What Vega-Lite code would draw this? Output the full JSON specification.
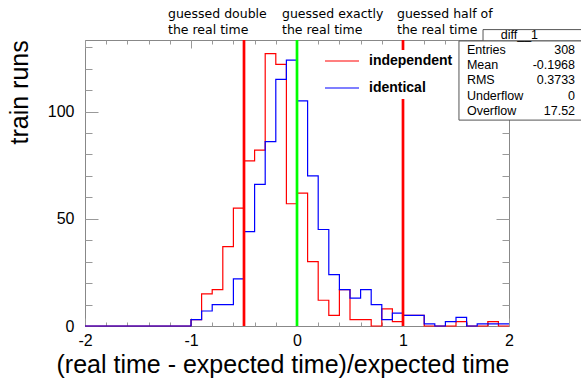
{
  "$schema": "https://vega.github.io/schema/vega-lite/v6.json",
  "width": 424,
  "height": 286,
  "autosize": {"type": "none"},
  "padding": {"left": 85, "top": 40, "right": 72, "bottom": 54},
  "background": "white",
  "config": {
    "view": {"stroke": "#888888", "strokeWidth": 1},
    "axis": {"domain": false, "grid": false, "tickColor": "#999999", "tickWidth": 1, "labelFont": "Liberation Sans", "labelFontSize": 16, "labelColor": "black", "labelFlush": false, "titleFont": "Liberation Sans", "titleFontSize": 25, "titleFontWeight": "normal", "titleColor": "black"}
  },
  "datasets": {
    "hist": [
      {"x": -2.0, "count": 0, "series": "independent"}, {"x": -1.9, "count": 0, "series": "independent"}, {"x": -1.8, "count": 0, "series": "independent"}, {"x": -1.7, "count": 0, "series": "independent"}, {"x": -1.6, "count": 0, "series": "independent"}, {"x": -1.5, "count": 0, "series": "independent"}, {"x": -1.4, "count": 0, "series": "independent"}, {"x": -1.3, "count": 0, "series": "independent"}, {"x": -1.2, "count": 0, "series": "independent"}, {"x": -1.1, "count": 0, "series": "independent"},
      {"x": -1.0, "count": 3, "series": "independent"}, {"x": -0.9, "count": 15, "series": "independent"}, {"x": -0.8, "count": 17, "series": "independent"}, {"x": -0.7, "count": 37, "series": "independent"}, {"x": -0.6, "count": 55, "series": "independent"}, {"x": -0.5, "count": 77, "series": "independent"}, {"x": -0.4, "count": 82, "series": "independent"}, {"x": -0.3, "count": 127, "series": "independent"}, {"x": -0.2, "count": 122, "series": "independent"}, {"x": -0.1, "count": 57, "series": "independent"},
      {"x": 0.0, "count": 62, "series": "independent"}, {"x": 0.1, "count": 30, "series": "independent"}, {"x": 0.2, "count": 12, "series": "independent"}, {"x": 0.3, "count": 5, "series": "independent"}, {"x": 0.4, "count": 17, "series": "independent"}, {"x": 0.5, "count": 3, "series": "independent"}, {"x": 0.6, "count": 3, "series": "independent"}, {"x": 0.7, "count": 0, "series": "independent"}, {"x": 0.8, "count": 8, "series": "independent"}, {"x": 0.9, "count": 2, "series": "independent"},
      {"x": 1.0, "count": 5, "series": "independent"}, {"x": 1.1, "count": 5, "series": "independent"}, {"x": 1.2, "count": 0, "series": "independent"}, {"x": 1.3, "count": 0, "series": "independent"}, {"x": 1.4, "count": 0, "series": "independent"}, {"x": 1.5, "count": 2, "series": "independent"}, {"x": 1.6, "count": 0, "series": "independent"}, {"x": 1.7, "count": 0, "series": "independent"}, {"x": 1.8, "count": 2, "series": "independent"}, {"x": 1.9, "count": 0, "series": "independent"}, {"x": 2.0, "count": 0, "series": "independent"},
      {"x": -2.0, "count": 0, "series": "identical"}, {"x": -1.9, "count": 0, "series": "identical"}, {"x": -1.8, "count": 0, "series": "identical"}, {"x": -1.7, "count": 0, "series": "identical"}, {"x": -1.6, "count": 0, "series": "identical"}, {"x": -1.5, "count": 0, "series": "identical"}, {"x": -1.4, "count": 0, "series": "identical"}, {"x": -1.3, "count": 0, "series": "identical"}, {"x": -1.2, "count": 0, "series": "identical"}, {"x": -1.1, "count": 0, "series": "identical"},
      {"x": -1.0, "count": 3, "series": "identical"}, {"x": -0.9, "count": 7, "series": "identical"}, {"x": -0.8, "count": 10, "series": "identical"}, {"x": -0.7, "count": 10, "series": "identical"}, {"x": -0.6, "count": 22, "series": "identical"}, {"x": -0.5, "count": 44, "series": "identical"}, {"x": -0.4, "count": 66, "series": "identical"}, {"x": -0.3, "count": 86, "series": "identical"}, {"x": -0.2, "count": 115, "series": "identical"}, {"x": -0.1, "count": 124, "series": "identical"},
      {"x": 0.0, "count": 105, "series": "identical"}, {"x": 0.1, "count": 70, "series": "identical"}, {"x": 0.2, "count": 45, "series": "identical"}, {"x": 0.3, "count": 24, "series": "identical"}, {"x": 0.4, "count": 17, "series": "identical"}, {"x": 0.5, "count": 13, "series": "identical"}, {"x": 0.6, "count": 17, "series": "identical"}, {"x": 0.7, "count": 10, "series": "identical"}, {"x": 0.8, "count": 3, "series": "identical"}, {"x": 0.9, "count": 6, "series": "identical"},
      {"x": 1.0, "count": 5, "series": "identical"}, {"x": 1.1, "count": 5, "series": "identical"}, {"x": 1.2, "count": 1, "series": "identical"}, {"x": 1.3, "count": 0, "series": "identical"}, {"x": 1.4, "count": 2, "series": "identical"}, {"x": 1.5, "count": 4, "series": "identical"}, {"x": 1.6, "count": 0, "series": "identical"}, {"x": 1.7, "count": 1, "series": "identical"}, {"x": 1.8, "count": 1, "series": "identical"}, {"x": 1.9, "count": 1, "series": "identical"}, {"x": 2.0, "count": 1, "series": "identical"}
    ],
    "guesses": [
      {"guess": "double", "x": -0.5, "label": ["guessed double", "the real time"]},
      {"guess": "exactly", "x": 0, "label": ["guessed exactly", "the real time"]},
      {"guess": "half", "x": 1, "label": ["guessed half of", "the real time"]}
    ],
    "stats": [
      {"title": "diff__1", "names": ["Entries", "Mean", "RMS", "Underflow", "Overflow"], "values": ["308", "-0.1968", "0.3733", "0", "17.52"]}
    ]
  },
  "resolve": {"axis": {"x": "independent", "y": "independent"}},
  "layer": [
    {
      "data": {"name": "hist"},
      "mark": {"type": "line", "interpolate": "step-after", "strokeWidth": 1.2},
      "encoding": {
        "x": {"field": "x", "type": "quantitative", "scale": {"domain": [-2, 2], "nice": false, "zero": false},
          "axis": {"orient": "bottom", "values": [-2, -1, 0, 1, 2], "tickSize": -8, "labelPadding": 14, "labelExpr": "'' + datum.value", "title": "(real time - expected time)/expected time", "titleAnchor": "end", "titlePadding": 4}},
        "y": {"field": "count", "type": "quantitative", "scale": {"domain": [0, 133.35], "nice": false, "zero": true},
          "axis": {"orient": "left", "values": [0, 50, 100], "tickSize": -13, "labelPadding": 24, "title": "train runs", "titleAngle": -90, "titleAlign": "left", "titleBaseline": "alphabetic", "titleX": -58, "titleY": 104}},
        "color": {"field": "series", "type": "nominal", "sort": ["independent", "identical"],
          "scale": {"domain": ["independent", "identical"], "range": ["#ff0000", "#0000ff"]},
          "legend": {"orient": "none", "legendX": 235, "legendY": 10, "title": null, "symbolType": "M-1,0H4.67", "symbolSize": 144, "symbolStrokeWidth": 1.2, "labelFont": "Liberation Sans", "labelFontSize": 14, "labelFontWeight": "bold", "labelColor": "black", "labelOffset": 31, "rowPadding": 13, "padding": 4, "fillColor": "white", "strokeColor": null}}
      }
    },
    {
      "data": {"name": "guesses"},
      "mark": {"type": "rule", "strokeWidth": 2.7},
      "encoding": {
        "x": {"field": "x", "type": "quantitative",
          "axis": {"orient": "bottom", "values": [-2, -1.8, -1.6, -1.4, -1.2, -1, -0.8, -0.6, -0.4, -0.2, 0, 0.2, 0.4, 0.6, 0.8, 1, 1.2, 1.4, 1.6, 1.8, 2], "tickSize": -4, "labels": false, "title": null}},
        "color": {"condition": {"test": "datum.x === 0", "value": "#00ff00"}, "value": "#ff0000"}
      }
    },
    {
      "data": {"name": "guesses"},
      "transform": [{"filter": "datum.guess === 'double'"}],
      "mark": {"type": "text", "align": "left", "baseline": "middle", "dx": -76, "dy": -26, "font": "DejaVu Sans", "fontSize": 12.5, "lineHeight": 15.5, "color": "black"},
      "encoding": {
        "x": {"field": "x", "type": "quantitative",
          "axis": {"orient": "top", "values": [-2, -1, 0, 1, 2], "tickSize": -8, "labels": false, "title": null}},
        "y": {"datum": 133.35, "type": "quantitative",
          "axis": {"orient": "right", "values": [0, 50, 100], "tickSize": -13, "labels": false, "title": null}},
        "text": {"field": "label"}
      }
    },
    {
      "data": {"name": "guesses"},
      "transform": [{"filter": "datum.guess === 'exactly'"}],
      "mark": {"type": "text", "align": "left", "baseline": "middle", "dx": -15, "dy": -26, "font": "DejaVu Sans", "fontSize": 12.5, "lineHeight": 15.5, "color": "black"},
      "encoding": {
        "x": {"field": "x", "type": "quantitative",
          "axis": {"orient": "top", "values": [-2, -1.8, -1.6, -1.4, -1.2, -1, -0.8, -0.6, -0.4, -0.2, 0, 0.2, 0.4, 0.6, 0.8, 1, 1.2, 1.4, 1.6, 1.8, 2], "tickSize": -4, "labels": false, "title": null}},
        "y": {"datum": 133.35, "type": "quantitative",
          "axis": {"orient": "right", "values": [0, 10, 20, 30, 40, 50, 60, 70, 80, 90, 100, 110, 120, 130], "tickSize": -7, "labels": false, "title": null}},
        "text": {"field": "label"}
      }
    },
    {
      "data": {"name": "guesses"},
      "transform": [{"filter": "datum.guess === 'half'"}],
      "mark": {"type": "text", "align": "left", "baseline": "middle", "dx": -6, "dy": -26, "font": "DejaVu Sans", "fontSize": 12.5, "lineHeight": 15.5, "color": "black"},
      "encoding": {
        "x": {"field": "x", "type": "quantitative", "axis": null},
        "y": {"datum": 133.35, "type": "quantitative",
          "axis": {"orient": "left", "values": [0, 10, 20, 30, 40, 50, 60, 70, 80, 90, 100, 110, 120, 130], "tickSize": -7, "labels": false, "title": null}},
        "text": {"field": "label"}
      }
    },
    {
      "data": {"name": "stats"},
      "mark": {"type": "rect", "fill": "white", "stroke": "#555555", "strokeWidth": 1},
      "encoding": {
        "x": {"datum": 1.755, "type": "quantitative", "axis": null},
        "x2": {"datum": 2.75},
        "y": {"datum": 138.2, "type": "quantitative", "axis": null},
        "y2": {"datum": 132.9}
      }
    },
    {
      "data": {"name": "stats"},
      "mark": {"type": "rect", "fill": "white", "stroke": "#555555", "strokeWidth": 1},
      "encoding": {
        "x": {"datum": 1.528, "type": "quantitative", "axis": null},
        "x2": {"datum": 2.75},
        "y": {"datum": 132.9, "type": "quantitative", "axis": null},
        "y2": {"datum": 96.0}
      }
    },
    {
      "data": {"name": "stats"},
      "mark": {"type": "text", "align": "left", "baseline": "middle", "font": "Liberation Sans", "fontSize": 12.5, "color": "black"},
      "encoding": {
        "x": {"datum": 1.922, "type": "quantitative", "axis": null},
        "y": {"datum": 135.7, "type": "quantitative", "axis": null},
        "text": {"field": "title"}
      }
    },
    {
      "data": {"name": "stats"},
      "mark": {"type": "text", "align": "left", "baseline": "middle", "font": "Liberation Sans", "fontSize": 12.5, "lineHeight": 15.2, "color": "black"},
      "encoding": {
        "x": {"datum": 1.603, "type": "quantitative", "axis": null},
        "y": {"datum": 128.7, "type": "quantitative", "axis": null},
        "text": {"field": "names"}
      }
    },
    {
      "data": {"name": "stats"},
      "mark": {"type": "text", "align": "right", "baseline": "middle", "font": "Liberation Sans", "fontSize": 12.5, "lineHeight": 15.2, "color": "black"},
      "encoding": {
        "x": {"datum": 2.623, "type": "quantitative", "axis": null},
        "y": {"datum": 128.7, "type": "quantitative", "axis": null},
        "text": {"field": "values"}
      }
    }
  ]
}
